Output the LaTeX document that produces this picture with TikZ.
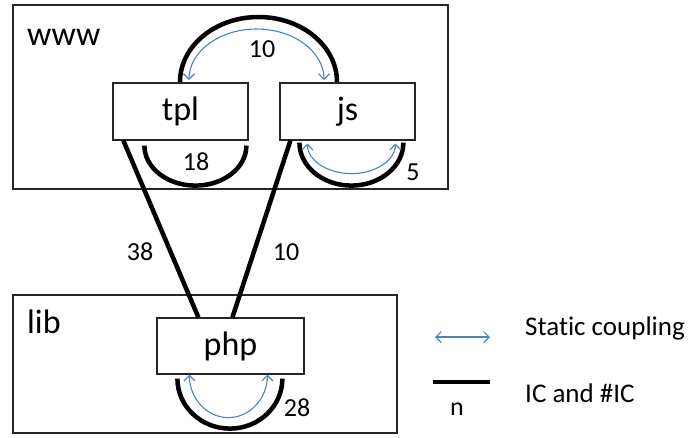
\documentclass[tikz,border=0pt]{standalone}
\usepackage{fontspec}
\setmainfont{Carlito}[Ligatures=NoCommon]
\usetikzlibrary{arrows.meta,calc}
\definecolor{couplingblue}{HTML}{4F81BD}
\tikzset{
  group/.style={draw=black!85, line width=1.2pt},
  module/.style={draw=black!85, line width=1.2pt, fill=white, minimum width=135pt, minimum height=57pt, inner sep=0pt, font=\fontsize{34}{40}\selectfont},
  ic/.style={line width=4.5pt, black},
  coupling/.style={couplingblue, line width=1.1pt, {Straight Barb[length=5.5pt,width=11pt]}-{Straight Barb[length=5.5pt,width=11pt]}},
  num/.style={font=\fontsize{26}{30}\selectfont, inner sep=0pt},
  grouplabel/.style={font=\fontsize{34}{40}\selectfont, inner sep=0pt, anchor=base west},
  legendtext/.style={font=\fontsize{27}{32}\selectfont, inner sep=0pt, anchor=base west}
}
\begin{document}
\begin{tikzpicture}[x=1pt, y=-1pt]
  \useasboundingbox (0,0) rectangle (692,437);
  % group frames
  \draw[group] (13,5) rectangle (448,189);
  \draw[group] (13,295) rectangle (397,433);
  \node[grouplabel] (wwwlabel) at (27,45) {www};
  \node[grouplabel] (liblabel) at (27,333) {lib};

  % coupling between tpl and js (drawn before the boxes)
  \draw[ic] (180,82) arc[start angle=180, end angle=360, x radius=78.5, y radius=65];
  \draw[coupling] (189,80) arc[start angle=180, end angle=360, x radius=67.5, y radius=51];
  \node[num] (n10top) at (262,49) {10};

  % modules
  \node[module] (tpl) at (180.5,111.5) {tpl};
  \node[module] (js) at (347.5,111.5) {js};
  \node[module, minimum width=147pt, minimum height=56pt] (php) at (230.5,346) {php};

  % self couplings
  \draw[ic] ($(tpl.south west)+(32,5)$) arc[start angle=180, end angle=0, x radius=51, y radius=40];
  \node[num] (n18) at (196,162) {18};
  \draw[ic] ($(js.south west)+(20,2)$) arc[start angle=180, end angle=0, x radius=52, y radius=43];
  \draw[coupling] ($(js.south west)+(28,3)$) arc[start angle=180, end angle=0, x radius=44, y radius=30];
  \node[num] (n5) at (413,172) {5};
  \draw[ic] ($(php.south west)+(21,4)$) arc[start angle=180, end angle=0, x radius=52.5, y radius=50];
  \draw[coupling] ($(php.south west)+(33,0)$) arc[start angle=180, end angle=0, x radius=39, y radius=43];
  \node[num] (n28) at (297,408) {28};

  % cross-group couplings
  \coordinate (tplfoot) at ($(tpl.south west)+(11,0)$);
  \coordinate (jsfoot) at ($(js.south west)+(11,0)$);
  \coordinate (phpleft) at ($(php.north west)+(42,0)$);
  \coordinate (phpright) at ($(php.north west)+(76,0)$);
  \draw[ic] (tplfoot) -- (phpleft);
  \draw[ic] (jsfoot) -- (phpright);
  \node[num] (n38) at (140,252) {38};
  \node[num] (n10) at (286,252) {10};

  % legend
  \coordinate (la) at (435,337);
  \coordinate (lb) at (490,337);
  \draw[coupling] (la) -- (lb);
  \node[legendtext] (lstatic) at (525,335) {Static coupling};
  \coordinate (lc) at (433,382);
  \coordinate (ld) at (490,382);
  \draw[ic, line cap=butt] (lc) -- (ld);
  \node[num] (ln) at (457,409) {n};
  \node[legendtext] (lic) at (525,402) {IC and \#IC};
\end{tikzpicture}
\end{document}
